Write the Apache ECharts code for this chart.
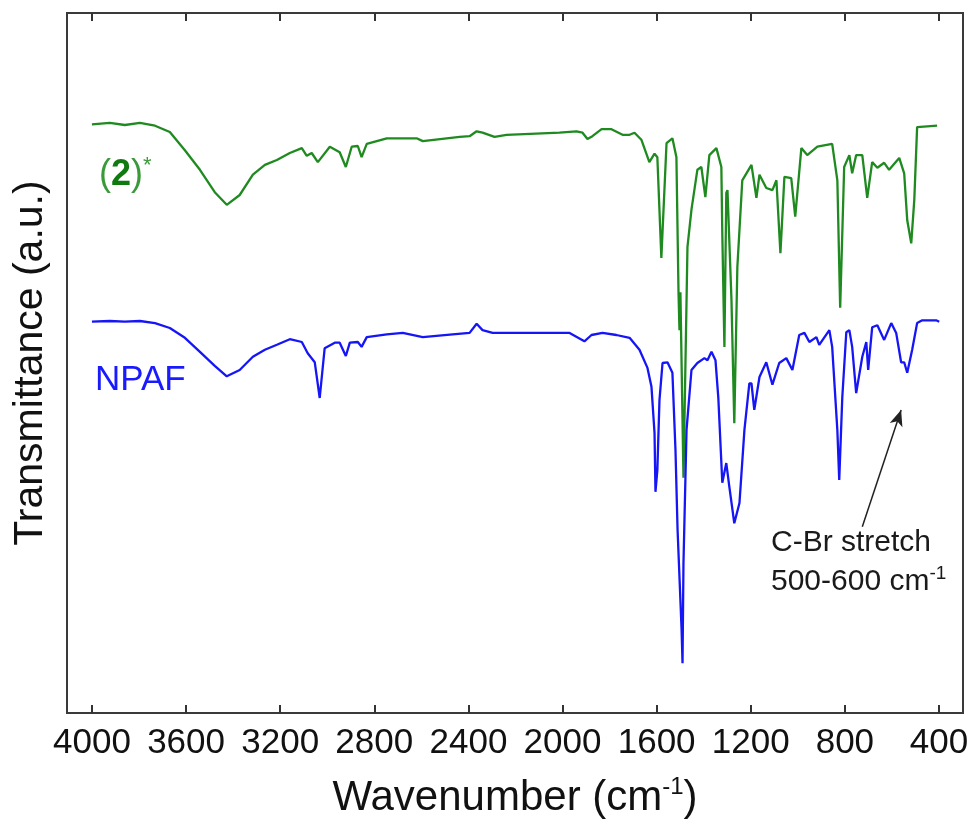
<!DOCTYPE html>
<html>
<head>
<meta charset="utf-8">
<script src="https://cdn.jsdelivr.net/npm/echarts@6/dist/echarts.min.js"></script>
<style>
  html, body { margin: 0; padding: 0; background: #fff; }
  #chart { width: 973px; height: 828px; }
</style>
</head>
<body>
<div id="chart"></div>
<script>
// tick labels on the wavenumber axis
const xTicks = [4000, 3600, 3200, 2800, 2400, 2000, 1600, 1200, 800, 400]

// (2)* spectrum (wavenumber, transmittance a.u.)
const greenWn = [4000, 3924, 3860, 3796, 3732, 3669, 3605, 3541, 3478, 3427, 3372, 3316, 3265, 3214, 3159, 3108, 3087, 3066, 3040, 2989, 2947, 2921, 2896, 2870, 2854, 2832, 2747, 2620, 2594, 2437, 2395, 2365, 2340, 2289, 2238, 2013, 1941, 1915, 1894, 1873, 1834, 1792, 1745, 1715, 1694, 1665, 1631, 1609, 1597, 1580, 1558, 1533, 1516, 1507, 1503, 1499, 1486, 1469, 1452, 1427, 1410, 1393, 1376, 1346, 1325, 1321, 1312, 1304, 1299, 1282, 1270, 1257, 1236, 1197, 1176, 1163, 1134, 1108, 1091, 1074, 1057, 1028, 1011, 985, 960, 917, 854, 832, 820, 803, 781, 769, 752, 726, 705, 684, 662, 633, 612, 569, 548, 535, 518, 505, 493, 408]
const greenT = [84.1, 84.3, 84.0, 84.3, 83.9, 83.0, 80.4, 77.6, 74.4, 72.6, 74.0, 76.9, 78.3, 79.0, 80.0, 80.7, 79.6, 80.0, 78.7, 80.9, 80.1, 78.0, 80.9, 81.0, 79.4, 81.3, 82.1, 82.1, 81.7, 82.3, 82.4, 83.1, 82.9, 82.3, 82.6, 82.9, 83.1, 82.9, 82.0, 82.4, 83.4, 83.4, 82.6, 82.6, 82.9, 81.9, 78.7, 79.9, 79.4, 65.0, 81.4, 82.1, 79.4, 60.0, 54.7, 60.1, 33.6, 66.6, 71.9, 77.6, 78.0, 73.7, 79.7, 80.7, 78.0, 68.6, 52.3, 74.3, 74.7, 59.0, 41.4, 63.7, 76.1, 78.3, 73.6, 76.9, 75.0, 74.7, 76.1, 65.7, 76.6, 76.4, 70.9, 80.7, 79.7, 80.9, 81.3, 76.1, 57.9, 78.0, 79.7, 77.1, 79.7, 79.7, 73.6, 78.7, 77.9, 78.6, 77.6, 79.3, 77.1, 70.4, 67.1, 73.3, 83.7, 83.9]

// NPAF spectrum
const blueWn = [4000, 3924, 3860, 3796, 3732, 3669, 3605, 3541, 3478, 3427, 3372, 3316, 3265, 3214, 3159, 3108, 3083, 3053, 3032, 3011, 2968, 2947, 2921, 2904, 2870, 2854, 2832, 2747, 2679, 2594, 2467, 2395, 2365, 2340, 2297, 2110, 1970, 1907, 1877, 1830, 1771, 1715, 1673, 1639, 1622, 1609, 1605, 1597, 1588, 1575, 1554, 1533, 1520, 1511, 1494, 1490, 1486, 1473, 1452, 1427, 1397, 1384, 1367, 1350, 1338, 1321, 1304, 1291, 1270, 1248, 1227, 1206, 1197, 1185, 1163, 1134, 1108, 1079, 1049, 1023, 994, 972, 951, 921, 909, 866, 854, 832, 824, 811, 794, 781, 769, 752, 726, 709, 701, 684, 662, 633, 603, 582, 561, 548, 535, 514, 493, 471, 412, 399]
const blueT = [55.9, 56.0, 55.9, 56.0, 55.7, 55.0, 53.6, 51.6, 49.6, 48.1, 49.0, 50.9, 51.9, 52.6, 53.4, 53.0, 51.4, 50.1, 45.0, 52.1, 52.9, 52.9, 51.0, 52.9, 53.0, 52.3, 53.7, 54.1, 54.3, 53.7, 54.1, 54.3, 55.6, 54.7, 54.3, 54.3, 54.3, 53.1, 54.0, 54.3, 54.0, 53.6, 51.9, 49.3, 46.6, 40.0, 31.6, 34.7, 44.7, 50.0, 50.1, 48.6, 37.6, 26.1, 11.9, 7.1, 21.4, 40.4, 49.0, 50.0, 50.7, 50.4, 51.6, 50.4, 45.1, 32.9, 35.7, 32.3, 27.1, 30.0, 40.4, 47.1, 47.1, 43.3, 48.0, 50.1, 46.9, 50.0, 50.7, 49.0, 54.0, 54.3, 53.0, 53.7, 52.6, 54.7, 52.3, 40.4, 33.3, 45.1, 54.4, 54.7, 52.3, 45.7, 50.9, 53.0, 49.0, 55.1, 55.4, 53.3, 55.7, 54.3, 50.1, 50.1, 48.6, 51.9, 55.7, 56.1, 56.1, 55.9]

const FONT = '"Liberation Sans", Arial, sans-serif'
const GREEN = '#1f8a1f'
const BLUE = '#1515f5'

const chart = echarts.init(document.getElementById('chart'))

function pairs(xs, ys) {
  return xs.map((x, i) => [x, ys[i]])
}

const xBase = {
  type: 'value',
  inverse: true,
  min: 298,
  max: 4106,
  splitLine: { show: false },
  axisLine: { show: false },
  axisTick: {
    inside: true,
    length: 8,
    customValues: xTicks,
    lineStyle: { color: '#333', width: 2 }
  }
}

chart.setOption({
  animation: false,
  backgroundColor: '#fff',
  grid: {
    left: 67, right: 10, top: 13, bottom: 115,
    show: true, borderColor: '#3a3a3a', borderWidth: 2
  },
  xAxis: [
    {
      ...xBase,
      position: 'bottom',
      name: 'Wavenumber (cm{sup|-1})',
      nameLocation: 'middle',
      nameGap: 62,
      nameTextStyle: {
        fontFamily: FONT, fontSize: 42, color: '#111', lineHeight: 46,
        rich: { sup: { fontFamily: FONT, fontSize: 24, color: '#111', verticalAlign: 'top', lineHeight: 24 } }
      },
      axisLabel: {
        customValues: xTicks,
        formatter: (v) => String(v),
        fontFamily: FONT, fontSize: 35, color: '#111', margin: 13
      }
    },
    {
      ...xBase,
      position: 'top',
      axisLabel: { show: false }
    }
  ],
  yAxis: {
    type: 'value',
    min: 0,
    max: 100,
    axisLine: { show: false },
    axisTick: { show: false },
    axisLabel: { show: false },
    splitLine: { show: false },
    name: 'Transmittance (a.u.)',
    nameLocation: 'middle',
    nameGap: 16,
    nameTextStyle: { fontFamily: FONT, fontSize: 41, color: '#111' }
  },
  series: [
    {
      name: '(2)*',
      type: 'line',
      data: pairs(greenWn, greenT),
      showSymbol: false,
      lineStyle: { color: GREEN, width: 2.3 },
      itemStyle: { color: GREEN }
    },
    {
      name: 'NPAF',
      type: 'line',
      data: pairs(blueWn, blueT),
      showSymbol: false,
      lineStyle: { color: BLUE, width: 2.3 },
      itemStyle: { color: BLUE },
      markLine: {
        silent: true,
        symbol: ['none', 'arrow'],
        symbolSize: [10, 16],
        label: { show: false },
        lineStyle: { color: '#222', width: 1.5, type: 'solid' },
        data: [[{ coord: [726, 26.6] }, { coord: [561, 43.3] }]]
      }
    }
  ],
  graphic: [
    {
      type: 'text', left: 99, top: 155,
      style: {
        text: '{p|(}{b|2}{p|)}{s|*}',
        rich: {
          p: { fontFamily: FONT, fontSize: 36, fill: '#3a9a3a', lineHeight: 40 },
          b: { fontFamily: FONT, fontSize: 36, fontWeight: 'bold', fill: '#107a10', lineHeight: 40 },
          s: { fontFamily: FONT, fontSize: 22, fill: '#3a9a3a', verticalAlign: 'top', lineHeight: 22 }
        }
      }
    },
    {
      type: 'text', left: 95, top: 363,
      style: { text: 'NPAF', fontFamily: FONT, fontSize: 35, fill: '#1a1aff' }
    },
    {
      type: 'text', left: 771, top: 528,
      style: { text: 'C-Br stretch', fontFamily: FONT, fontSize: 30, fill: '#1a1a1a' }
    },
    {
      type: 'text', left: 771, top: 564,
      style: {
        text: '500-600 cm{sup|-1}',
        rich: {
          sup: { fontFamily: FONT, fontSize: 19, fill: '#1a1a1a', verticalAlign: 'top', lineHeight: 19 }
        },
        fontFamily: FONT, fontSize: 30, fill: '#1a1a1a', lineHeight: 36
      }
    }
  ]
})
</script>
</body>
</html>
